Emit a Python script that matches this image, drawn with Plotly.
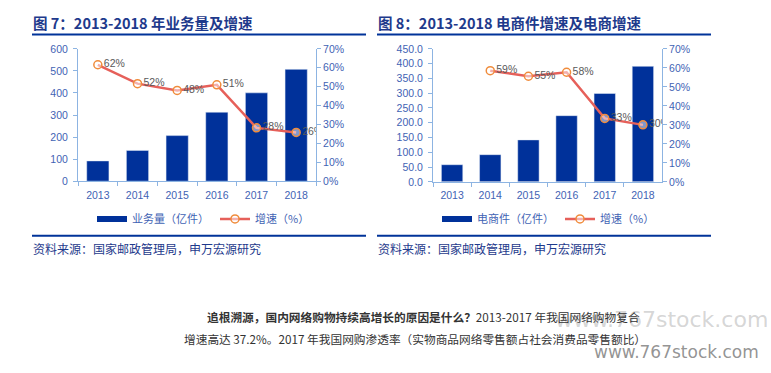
import plotly.graph_objects as go

# ---------------- data ----------------
years = ["2013", "2014", "2015", "2016", "2017", "2018"]
volume = [91.9, 139.6, 206.7, 312.8, 400.6, 507.1]          # 业务量（亿件）
volume_growth = [0.616, 0.516, 0.48, 0.51, 0.282, 0.258]     # 增速
volume_growth_labels = ["62%", "52%", "48%", "51%", "28%", "26%"]

ecom = [58.0, 92.0, 142.0, 224.0, 299.0, 391.0]              # 电商件（亿件）
ecom_growth = [None, 0.585, 0.556, 0.577, 0.334, 0.30]       # 增速
ecom_growth_labels = ["", "59%", "55%", "58%", "33%", "30%"]

W, H = 771, 373
def fx(px):
    return px / W
def fy(py):
    return 1 - py / H

BAR = "#00319A"
LINE = "#E6605A"
MARK = "#F08C3C"
TICK = "#3F63B4"
AXIS = "#8DB4E2"
NAVY = "#1E3A8C"
LBL = "#595959"
NUM_FONT = "Liberation Sans, Arial, sans-serif"
CJK = "Noto Sans CJK SC, sans-serif"

fig = go.Figure()

# ---- left chart ----
fig.add_trace(go.Bar(x=years, y=volume, marker_color=BAR, name="业务量（亿件）",
                     xaxis="x", yaxis="y", showlegend=False, legendgroup="a"))
fig.add_trace(go.Scatter(x=[None], y=[None], mode="lines", line=dict(color=BAR, width=6),
                         name="业务量（亿件）", xaxis="x", yaxis="y", legend="legend",
                         legendgroup="a"))
fig.add_trace(go.Scatter(x=years, y=volume_growth, mode="lines+markers+text",
                         line=dict(color=LINE, width=2.5),
                         marker=dict(symbol="circle", size=8, color="rgba(255,255,255,0.5)",
                                     line=dict(color=MARK, width=1.5)),
                         text=volume_growth_labels, textposition="middle right",
                         textfont=dict(color=LBL, size=10.5, family=NUM_FONT),
                         name="增速（%）", xaxis="x", yaxis="y2", legend="legend"))

# ---- right chart ----
fig.add_trace(go.Bar(x=years, y=ecom, marker_color=BAR, name="电商件（亿件）",
                     xaxis="x2", yaxis="y3", showlegend=False, legendgroup="b"))
fig.add_trace(go.Scatter(x=[None], y=[None], mode="lines", line=dict(color=BAR, width=6),
                         name="电商件（亿件）", xaxis="x2", yaxis="y3", legend="legend2",
                         legendgroup="b"))
fig.add_trace(go.Scatter(x=years, y=ecom_growth, mode="lines+markers+text",
                         line=dict(color=LINE, width=2.5),
                         marker=dict(symbol="circle", size=8, color="rgba(255,255,255,0.5)",
                                     line=dict(color=MARK, width=1.5)),
                         text=ecom_growth_labels, textposition="middle right",
                         textfont=dict(color=LBL, size=10.5, family=NUM_FONT),
                         name="增速（%）", xaxis="x2", yaxis="y4", legend="legend2"))

axis_common = dict(showline=True, linecolor=AXIS, linewidth=1, ticks="outside",
                   tickcolor=AXIS, ticklen=4, showgrid=False, zeroline=False,
                   tickfont=dict(color=TICK, size=10.5, family=NUM_FONT), fixedrange=True)

fig.update_layout(
    width=W, height=H, margin=dict(l=0, r=0, t=0, b=0),
    paper_bgcolor="white", plot_bgcolor="white",
    bargap=0.44,
    xaxis=dict(domain=[fx(78), fx(316)], anchor="y", type="category",
               tickson="boundaries", ticklabelstandoff=4, **axis_common),
    yaxis=dict(domain=[fy(181), fy(44.3)], anchor="x", range=[0, 600], dtick=100,
               ticklabelstandoff=3, **axis_common),
    yaxis2=dict(overlaying="y", anchor="x", side="right", range=[0, 0.7], dtick=0.1,
                tickformat=".0%", **axis_common),
    xaxis2=dict(domain=[fx(433), fx(662)], anchor="y3", type="category",
                tickson="boundaries", ticklabelstandoff=4, **axis_common),
    yaxis3=dict(domain=[fy(181.7), fy(44.3)], anchor="x2", range=[0, 450], dtick=50,
                tickformat=".1f", ticklabelstandoff=3, **axis_common),
    yaxis4=dict(overlaying="y3", anchor="x2", side="right", range=[0, 0.7], dtick=0.1,
                tickformat=".0%", **axis_common),
    legend=dict(orientation="h", x=fx(92), y=fy(220), xanchor="left", yanchor="middle",
                font=dict(family=CJK, size=11, color=TICK), itemwidth=30,
                entrywidth=78, entrywidthmode="pixels",
                bgcolor="rgba(0,0,0,0)", tracegroupgap=0),
    legend2=dict(orientation="h", x=fx(437), y=fy(220), xanchor="left", yanchor="middle",
                 font=dict(family=CJK, size=11, color=TICK), itemwidth=30,
                 entrywidth=78, entrywidthmode="pixels",
                 bgcolor="rgba(0,0,0,0)", tracegroupgap=0),
    showlegend=True,
)

# titles, rules, sources
shapes = []
for x0, x1 in [(32, 366), (377, 711)]:
    shapes.append(dict(type="line", xref="paper", yref="paper", x0=fx(x0), x1=fx(x1),
                       y0=fy(29.5), y1=fy(29.5), line=dict(color="#003399", width=2)))
    shapes.append(dict(type="line", xref="paper", yref="paper", x0=fx(x0), x1=fx(x1),
                       y0=fy(237.5), y1=fy(237.5), line=dict(color="#003399", width=2)))
fig.update_layout(shapes=shapes)

ann = []
ann.append(dict(text="<b>图 7：2013-2018 年业务量及增速</b>", x=fx(31), y=fy(17),
                xref="paper", yref="paper", xanchor="left", yanchor="middle", showarrow=False,
                font=dict(family=CJK, size=14.5, color=NAVY)))
ann.append(dict(text="<b>图 8：2013-2018 电商件增速及电商增速</b>", x=fx(376), y=fy(17),
                xref="paper", yref="paper", xanchor="left", yanchor="middle", showarrow=False,
                font=dict(family=CJK, size=14.5, color=NAVY)))
for x in (31, 376):
    ann.append(dict(text="资料来源：国家邮政管理局，申万宏源研究", x=fx(x), y=fy(251),
                    xref="paper", yref="paper", xanchor="left", yanchor="middle",
                    showarrow=False, font=dict(family=CJK, size=12, color=NAVY)))

# watermarks
ann.append(dict(text="www.767stock.com", x=fx(553), y=fy(324), xref="paper", yref="paper",
                xanchor="left", yanchor="middle", showarrow=False,
                font=dict(family="DejaVu Sans", size=22, color="rgba(150,150,150,0.4)")))
ann.append(dict(text="www.767stock.com", x=fx(592), y=fy(358), xref="paper", yref="paper",
                xanchor="left", yanchor="middle", showarrow=False,
                font=dict(family="DejaVu Sans", size=17, color="rgba(120,120,120,0.8)")))

# body text
ann.append(dict(text="<b>追根溯源，国内网络购物持续高增长的原因是什么？</b>2013-2017 年我国网络购物复合",
                x=fx(205), y=fy(321), xref="paper", yref="paper", xanchor="left",
                yanchor="middle", showarrow=False,
                font=dict(family=CJK, size=11.7, color="#333333")))
ann.append(dict(text="增速高达 37.2%。2017 年我国网购渗透率（实物商品网络零售额占社会消费品零售额比）",
                x=fx(182), y=fy(344), xref="paper", yref="paper", xanchor="left",
                yanchor="middle", showarrow=False,
                font=dict(family=CJK, size=11.7, color="#333333")))
fig.update_layout(annotations=ann)

fig.write_html("out.html", config={"displayModeBar": False},
               post_script="document.body.style.margin='0';document.body.style.overflow='hidden';")
